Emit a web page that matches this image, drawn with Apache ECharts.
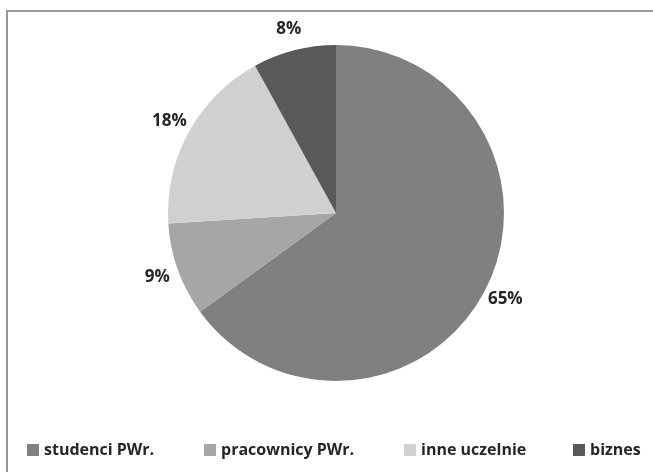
<!DOCTYPE html>
<html>
<head>
<meta charset="utf-8">
<script src="https://cdn.jsdelivr.net/npm/echarts@6/dist/echarts.min.js"></script>
<style>
html,body{margin:0;padding:0;background:#fff;}
#chart{width:653px;height:472px;}
</style>
</head>
<body>
<div id="chart"></div>
<script>
const categories = ['studenci PWr.', 'pracownicy PWr.', 'inne uczelnie', 'biznes'];
const values = [65, 9, 18, 8];
const colors = ['#808083', '#a6a6a9', '#d0d0d2', '#59595b'];
const legendLeft = [27, 204, 404, 573];

const chart = echarts.init(document.getElementById('chart'));
const fontFamily = '"Open Sans", Lato, sans-serif';

const legends = categories.map((c, i) => ({
  data: [c],
  left: legendLeft[i],
  top: 442,
  orient: 'horizontal',
  icon: 'rect',
  itemWidth: 12,
  itemHeight: 12,
  itemGap: 5,
  padding: 0,
  selectedMode: false,
  textStyle: { fontFamily, fontWeight: 'bold', fontSize: 16, color: '#262626' }
}));

chart.setOption({
  animation: false,
  backgroundColor: '#fff',
  color: colors,
  graphic: [{
    type: 'rect',
    shape: { x: 7, y: 11, width: 800, height: 600 },
    style: { fill: 'none', stroke: '#979797', lineWidth: 2 },
    silent: true
  }],
  legend: legends,
  series: [{
    type: 'pie',
    center: [336, 213],
    radius: [0, 168],
    startAngle: 90,
    clockwise: true,
    avoidLabelOverlap: false,
    data: categories.map((c, i) => ({ name: c, value: values[i] })),
    itemStyle: { borderWidth: 0 },
    emphasis: { disabled: true },
    label: {
      show: true,
      position: 'outside',
      formatter: '{c}%',
      fontFamily,
      fontWeight: 'bold',
      fontSize: 17,
      color: '#262626',
      distanceToLabelLine: 0
    },
    labelLine: { show: false, length: 22, length2: 0 },
    labelLayout: function (p) {
      const r = p.labelRect;
      return { x: p.align === 'right' ? r.x + r.width : (p.align === 'center' ? r.x + r.width / 2 : r.x), align: 'center' };
    }
  }]
});
</script>
</body>
</html>
